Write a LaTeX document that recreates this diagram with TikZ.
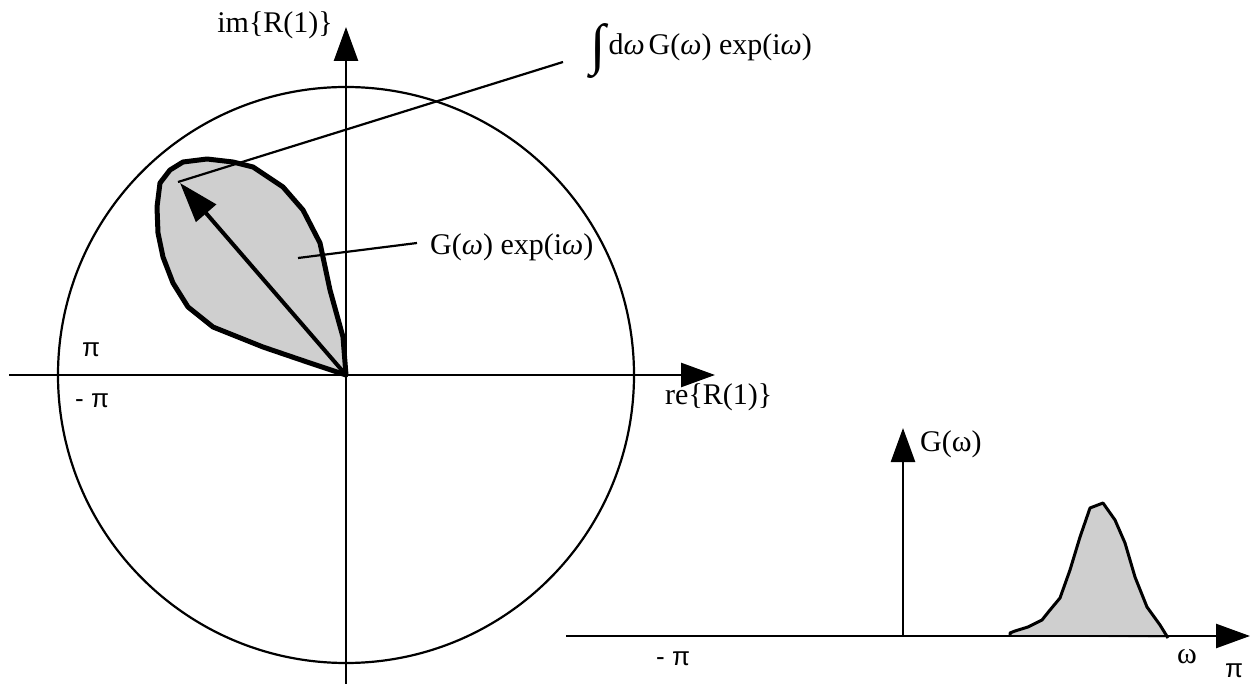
\documentclass[tikz,border=0pt]{standalone}
\usepackage{fontspec}
\setmainfont{Liberation Serif}
\newfontfamily\sansf{Liberation Sans}
\usetikzlibrary{arrows.meta}
\begin{document}
\begin{tikzpicture}[x=1pt,y=-1pt,
  axis/.style={line width=2.5pt,-{Triangle[length=34pt,width=24pt]}},
  lab/.style={font=\fontsize{30}{34}\selectfont, inner sep=0pt},
  pil/.style={font=\sansf\fontsize{26}{30}\selectfont, inner sep=0pt},
  shade/.style={fill=gray!38},
  ptr/.style={line width=2.2pt}]
\useasboundingbox (0,0) rectangle (1256,684);
% upper-left diagram
\coordinate (O) at (346,375);
\draw[line width=2.2pt] (O) circle[radius=288pt];
\draw[shade, line width=5pt, line join=round]
  (O) -- (343,337) -- (330,290) -- (320,243) -- (303,210) -- (283,187)
  -- (253,167) -- (233,162) -- (207,159) -- (183,162) -- (170,170)
  -- (160,183) -- (157,207) -- (158,233) -- (163,257) -- (173,283)
  -- (188,307) -- (213,327) -- (263,347) -- (310,363) -- cycle;
\coordinate (hL) at (9,375);
\coordinate (hR) at (715,375);
\draw[axis] (hL) -- (hR);
\coordinate (vB) at (346,684);
\coordinate (vT) at (346,27);
\draw[axis] (vB) -- (vT);
\coordinate (tip) at (180,183);
\draw[line width=4pt,-{Triangle[length=40pt,width=26pt]}] (O) -- (tip);
\coordinate (p1) at (178,182);
\coordinate (p1e) at (563,62);
\draw[ptr] (p1) -- (p1e);
\coordinate (p2) at (298,258);
\coordinate (p2e) at (417,243);
\draw[ptr] (p2) -- (p2e);
\node[lab, anchor=base east] (imlab) at (333,33) {im\{R(1)\}};
\node[lab, anchor=base west] (relab) at (665,405) {re\{R(1)\}};
\node[pil, anchor=base west] (pitop) at (82,357) {π};
\node[pil, anchor=base west] (pibot) at (75,408) {- π};
\node[lab, anchor=base west] (intlab) at (590,55)
  {\raisebox{-9pt}{\fontsize{56}{56}\selectfont ∫}\hspace{3pt}d\textit{ω}\hspace{4pt}G(\textit{ω}) exp(i\textit{ω})};
\node[lab, anchor=base west] (glab2) at (430,255) {G(\textit{ω}) exp(i\textit{ω})};
% lower-right diagram
\fill[shade] (1010,636) -- (1010,633) -- (1015,631) -- (1028,627) -- (1042,620)
  -- (1050,610) -- (1060,598) -- (1070,570) -- (1080,537) -- (1090,508)
  -- (1103,503) -- (1115,520) -- (1125,543) -- (1135,577) -- (1147,607)
  -- (1160,625) -- (1168,638) -- cycle;
\draw[line width=3pt, line join=round] (1010,636) -- (1010,633) -- (1015,631) -- (1028,627) -- (1042,620)
  -- (1050,610) -- (1060,598) -- (1070,570) -- (1080,537) -- (1090,508)
  -- (1103,503) -- (1115,520) -- (1125,543) -- (1135,577) -- (1147,607)
  -- (1160,625) -- (1168,638);
\coordinate (gL) at (566,636);
\coordinate (gR) at (1250,636);
\draw[axis] (gL) -- (gR);
\coordinate (g0) at (903,636);
\coordinate (gT) at (903,428);
\draw[axis] (g0) -- (gT);
\node[lab, anchor=base west] (Glab) at (920,452) {G(ω)};
\node[pil, anchor=base west] (mpi) at (656,665) {- π};
\node[lab, anchor=base west] (om) at (1177,663) {ω};
\node[pil, anchor=base west] (ppi) at (1225,677) {π};
\end{tikzpicture}
\end{document}
